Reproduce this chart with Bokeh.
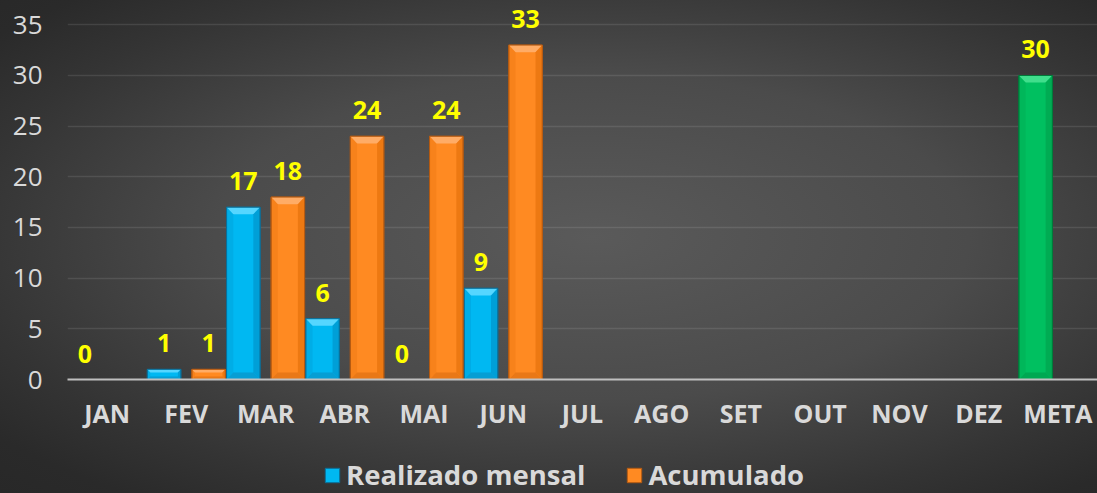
from bokeh.plotting import figure
from bokeh.layouts import column
from bokeh.models import (Range1d, FixedTicker, Legend, LegendItem, ColumnDataSource,
                          GlobalInlineStyleSheet)
from bokeh.core.properties import value
from bokeh.embed import file_html
from bokeh.resources import INLINE

# ---------------- data ----------------
months = ["JAN", "FEV", "MAR", "ABR", "MAI", "JUN", "JUL", "AGO", "SET", "OUT", "NOV", "DEZ", "META"]
realizado = [0, 1, 17, 6, 0, 9, None, None, None, None, None, None, 30]
acumulado = [None, 1, 18, 24, 24, 33, None, None, None, None, None, None, None]
y_ticks = [0, 5, 10, 15, 20, 25, 30, 35]
series_names = ["Realizado mensal", "Acumulado"]
meta_category = "META"

# ---------------- styles ----------------
BLUE = dict(main="#00B8F2", top="#55D6FF", side="#0098D0", bottom="#0A8CC0", line="#0B6F98")
ORANGE = dict(main="#FF8A22", top="#FFAC66", side="#E8740F", bottom="#DA6C10", line="#B45A12")
GREEN = dict(main="#00C060", top="#40DE8C", side="#00A650", bottom="#00984A", line="#007A3A")
OFFSET = 0.281
BAR_W = 0.423
FONT = value("Open Sans")
GRAY_TXT = "#d9d9d9"


def build(vals, shift, pal_for):
    d = dict(x=[], top=[], fill=[], line=[], label=[])
    pals = []
    for i, v in enumerate(vals):
        if v is None:
            continue
        pal = pal_for(months[i])
        pals.append(pal)
        d["x"].append(i + shift)
        d["top"].append(v)
        d["fill"].append(pal["main"])
        d["line"].append(pal["line"])
        d["label"].append(str(v))
    return d, pals


real_d, real_pals = build(realizado, -OFFSET, lambda m: GREEN if m == meta_category else BLUE)
acum_d, acum_pals = build(acumulado, OFFSET, lambda m: ORANGE)

p = figure(width=1097, height=440,
           x_range=Range1d(-0.5, 12.5), y_range=Range1d(0, 37.4),
           output_backend="svg", toolbar_location=None,
           min_border_left=67, min_border_right=0, min_border_top=0, min_border_bottom=61)
p.background_fill_alpha = 0
p.border_fill_alpha = 0
p.outline_line_alpha = 0

p.stylesheets = [GlobalInlineStyleSheet(css=(
    "html{min-height:100%;background:radial-gradient(ellipse farthest-corner at 54% 48%,"
    "#5a5a5a 0%,#4b4b4b 45%,#343434 75%,#2a2a2a 90%,#282828 100%);}"
))]

# main bars
src_r = ColumnDataSource(real_d)
src_a = ColumnDataSource(acum_d)
p.vbar(x="x", top="top", width=BAR_W, bottom=0, source=src_r,
       fill_color="fill", line_color="line", line_width=1)
p.vbar(x="x", top="top", width=BAR_W, bottom=0, source=src_a,
       fill_color="fill", line_color="line", line_width=1)

# bevel facets derived from the bar values
xs, ys, cols, alphas = [], [], [], []
for d, pals in ((real_d, real_pals), (acum_d, acum_pals)):
    for x, v, pal in zip(d["x"], d["top"], pals):
        if v <= 0:
            continue
        by = min(0.7, v * 0.3)
        bx = 0.085 * by / 0.7
        xl, xr = x - BAR_W / 2, x + BAR_W / 2
        xs.append([xl, xr, xr - bx, xl + bx]); ys.append([v, v, v - by, v - by])
        cols.append(pal["top"]); alphas.append(1.0)
        xs.append([xl, xr, xr - bx, xl + bx]); ys.append([0, 0, by, by])
        cols.append(pal["bottom"]); alphas.append(0.6)
        xs.append([xr, xr - bx, xr - bx, xr]); ys.append([0, by, v - by, v])
        cols.append(pal["side"]); alphas.append(0.8)
        xs.append([xl, xl + bx, xl + bx, xl]); ys.append([0, by, v - by, v])
        cols.append(pal["side"]); alphas.append(0.35)
p.patches(xs=xs, ys=ys, fill_color=cols, fill_alpha=alphas, line_alpha=0)

# outline on top
for src in (src_r, src_a):
    p.vbar(x="x", top="top", width=BAR_W, bottom=0, source=src,
           fill_alpha=0, line_color="line", line_width=1)

# value labels
for src in (src_r, src_a):
    p.text(x="x", y="top", text="label", source=src,
           text_font=FONT, text_font_style="bold", text_font_size="25px",
           text_color="#FFFF00", text_align="center", text_baseline="alphabetic",
           y_offset=-26)

# axes
p.xaxis.ticker = FixedTicker(ticks=list(range(len(months))))
p.xaxis.major_label_overrides = {i: m for i, m in enumerate(months)}
p.xaxis.axis_line_color = "#bfbfbf"
p.xaxis.axis_line_width = 2
p.xaxis.major_tick_line_alpha = 0
p.xaxis.minor_tick_line_alpha = 0
p.xaxis.major_label_text_font = "Open Sans"
p.xaxis.major_label_text_font_style = "bold"
p.xaxis.major_label_text_font_size = "25px"
p.xaxis.major_label_text_color = GRAY_TXT
p.xaxis.major_label_standoff = 10

p.yaxis.ticker = FixedTicker(ticks=y_ticks)
p.yaxis.axis_line_alpha = 0
p.yaxis.major_tick_line_alpha = 0
p.yaxis.minor_tick_line_alpha = 0
p.yaxis.major_label_text_font = "Open Sans"
p.yaxis.major_label_text_font_size = "26px"
p.yaxis.major_label_text_color = GRAY_TXT
p.yaxis.major_label_standoff = 19

p.xgrid.grid_line_alpha = 0
p.ygrid.grid_line_color = "#ffffff"
p.ygrid.grid_line_alpha = 0.1
p.ygrid.grid_line_width = 1.5

# ---------------- legend strip ----------------
lg = figure(width=1097, height=53, x_range=Range1d(0, 1), y_range=Range1d(0, 1),
            x_axis_type=None, y_axis_type=None, output_backend="svg", toolbar_location=None,
            min_border_left=0, min_border_right=0, min_border_top=0, min_border_bottom=0)
lg.background_fill_alpha = 0
lg.border_fill_alpha = 0
lg.outline_line_alpha = 0
lg.xgrid.visible = False
lg.ygrid.visible = False
offscreen = dict(x=[5], top=[0])
key_r = lg.vbar(x="x", top="top", width=0.1, source=ColumnDataSource(offscreen),
                fill_color=BLUE["main"], line_color=BLUE["line"])
key_a = lg.vbar(x="x", top="top", width=0.1, source=ColumnDataSource(offscreen),
                fill_color=ORANGE["main"], line_color=ORANGE["line"])
legend = Legend(items=[LegendItem(label=series_names[0], renderers=[key_r], index=0),
                       LegendItem(label=series_names[1], renderers=[key_a], index=0)],
                orientation="horizontal", location=(256, 0),
                glyph_width=18, glyph_height=18, label_standoff=5, spacing=40,
                padding=0, margin=0, border_line_alpha=0, background_fill_alpha=0,
                label_text_font="Open Sans", label_text_font_style="bold",
                label_text_font_size="27.5px", label_text_color=GRAY_TXT)
lg.add_layout(legend, "center")

layout = column(p, lg, spacing=0)
open("out.html", "w").write(file_html(layout, INLINE))
